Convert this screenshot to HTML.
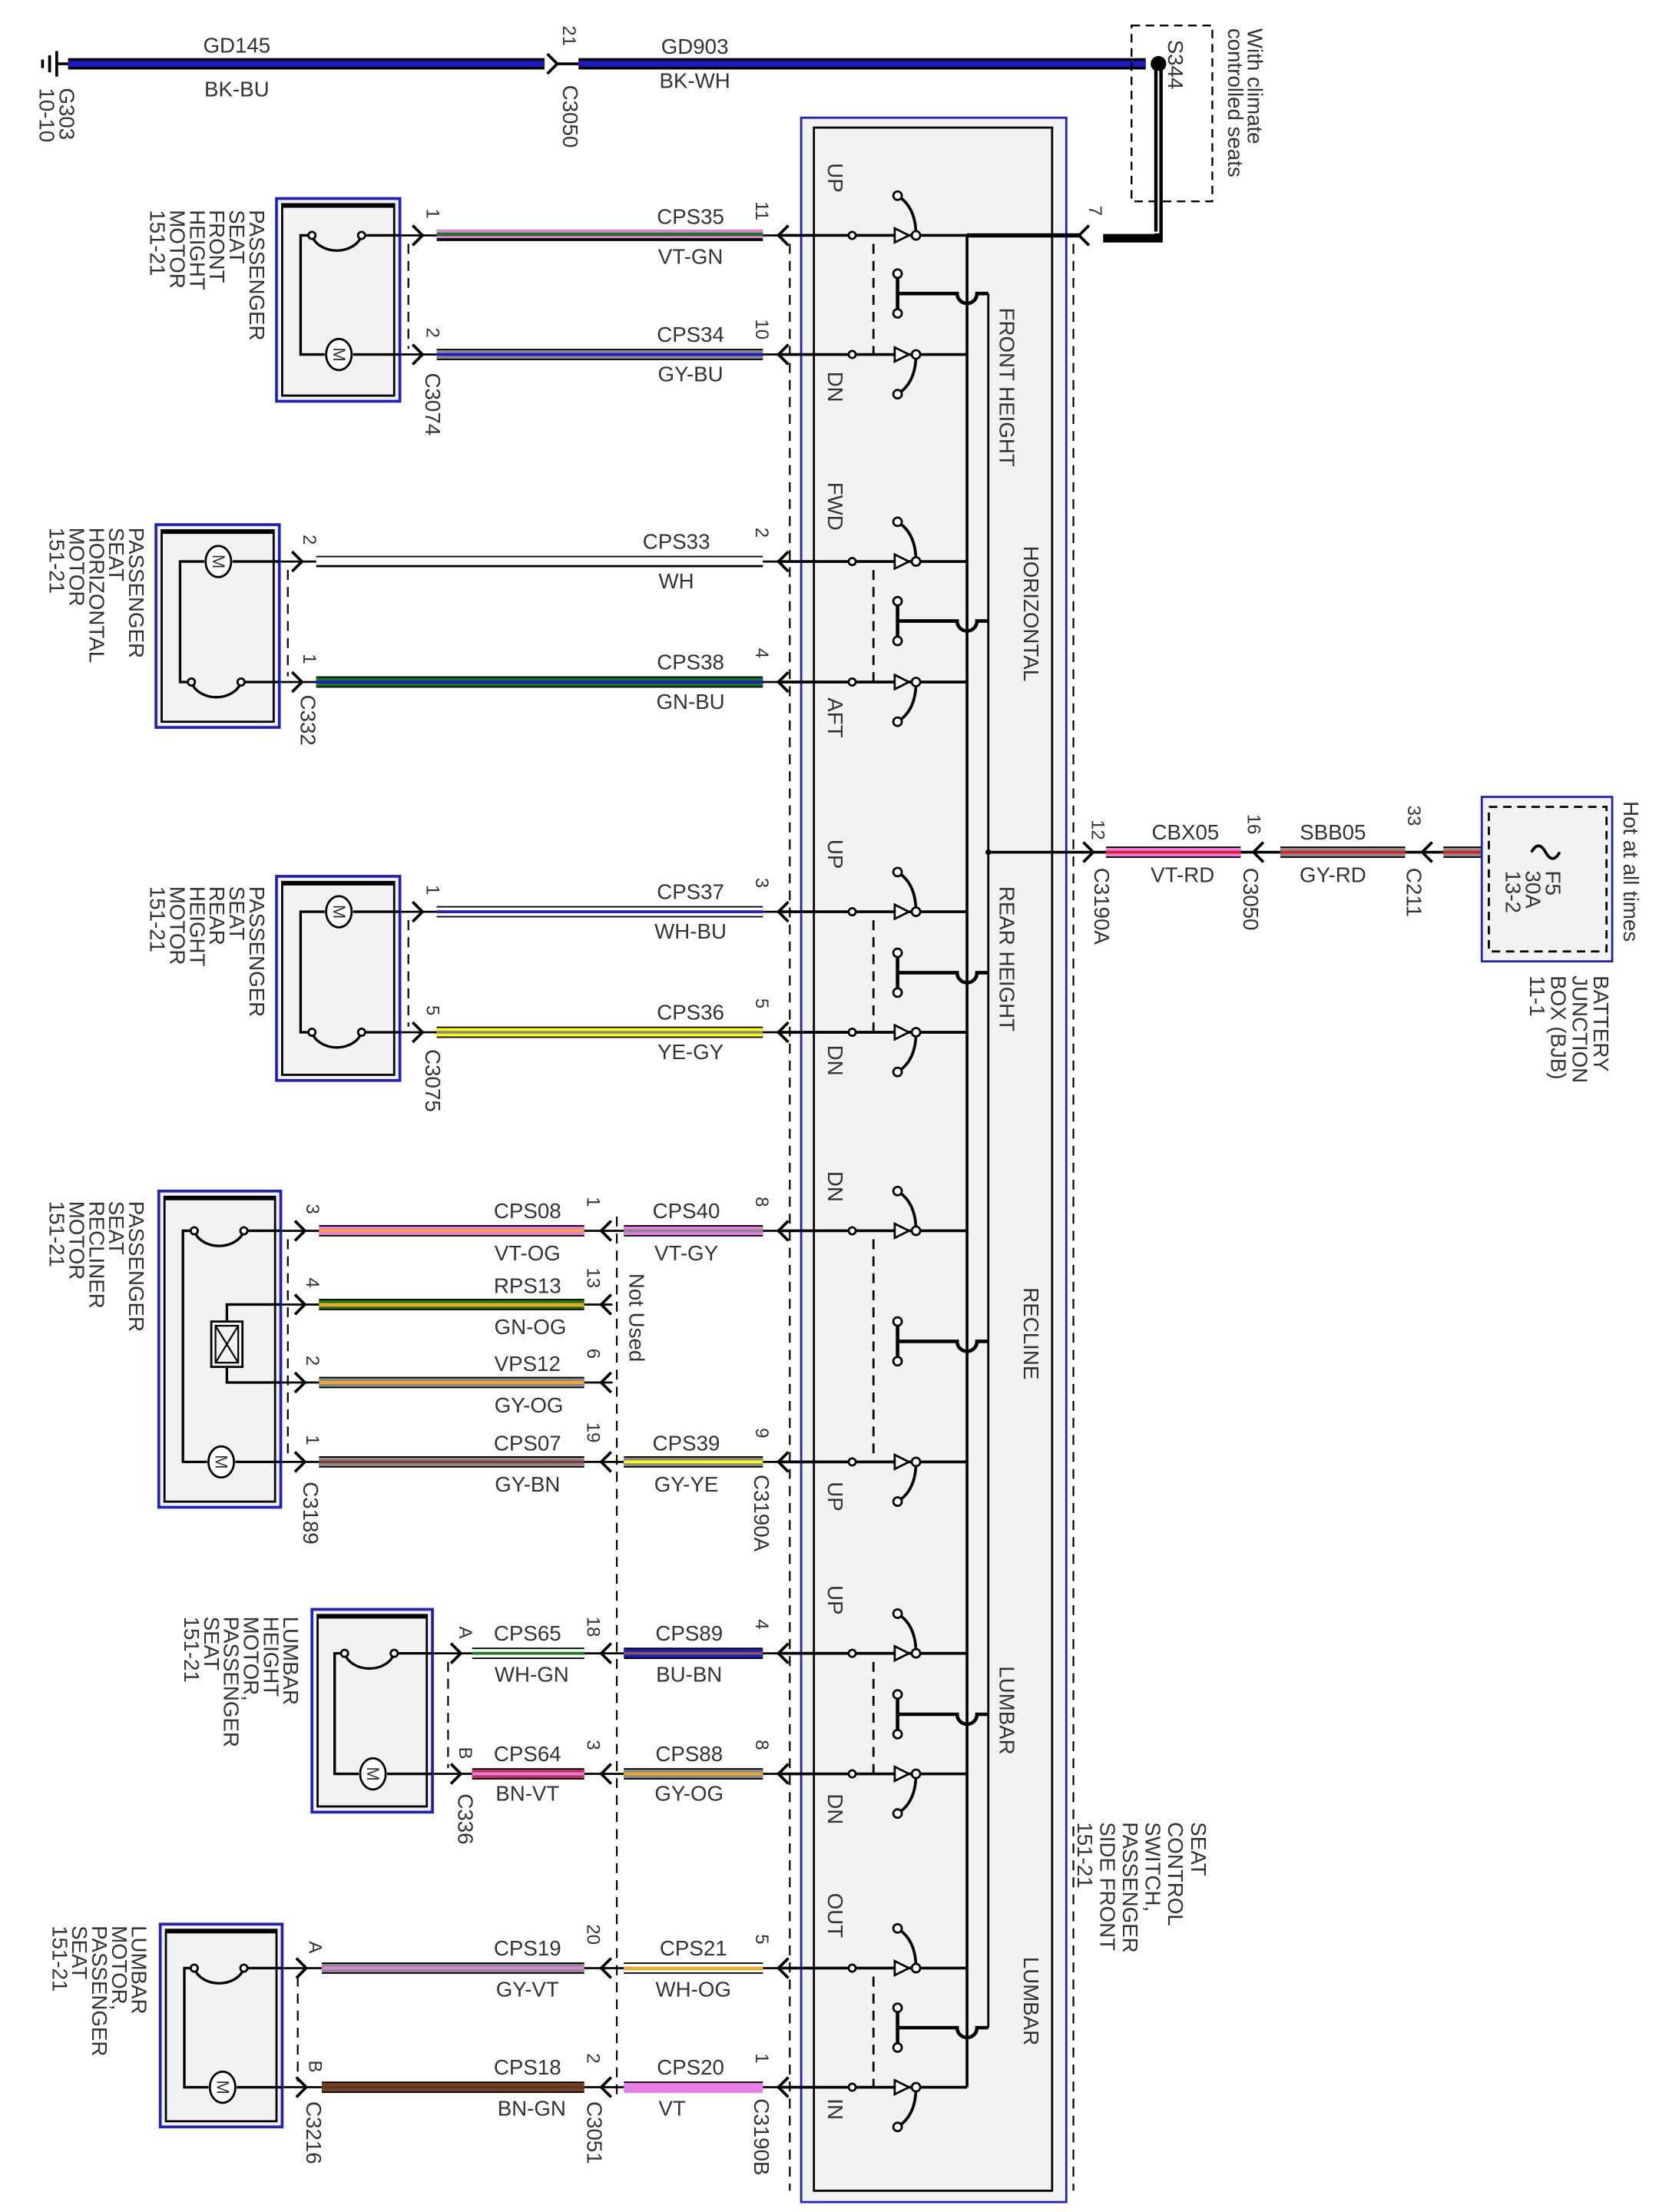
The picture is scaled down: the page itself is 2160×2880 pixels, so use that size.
<!DOCTYPE html>
<html><head><meta charset="utf-8"><style>
html,body{margin:0;padding:0;background:#fff}
svg{display:block}
text{font-family:"Liberation Sans",sans-serif;fill:#333;font-size:15px}
.m{text-anchor:middle}
.p{font-size:13px}
</style></head><body>
<svg width="2160" height="2880" viewBox="0 0 1170 1560" xmlns="http://www.w3.org/2000/svg">
<rect width="1170" height="1560" fill="#fff"/>

<!-- ground -->
<g stroke="#000" stroke-width="2">
<line x1="40" y1="45" x2="50" y2="45"/>
<line x1="40" y1="36" x2="40" y2="54"/><line x1="35" y1="39" x2="35" y2="51"/><line x1="30" y1="42" x2="30" y2="48"/>
</g>
<text transform="translate(42,62) rotate(90)">G303</text>
<text transform="translate(28,62) rotate(90)">10-10</text>
<rect x="48" y="41" width="336" height="8" fill="#000"/><rect x="48" y="43" width="336" height="4" fill="#1a1acc"/>
<path d="M386,38 L393,45 L386,52" stroke="#000" stroke-width="2" fill="none"/>
<line x1="393" y1="45" x2="408" y2="45" stroke="#000" stroke-width="2"/>
<rect x="408" y="41" width="400" height="8" fill="#000"/><rect x="408" y="43" width="400" height="4" fill="#1a1acc"/>
<text class="m" x="167" y="37">GD145</text><text class="m" x="167" y="68">BK-BU</text>
<text class="m" x="490" y="38">GD903</text><text class="m" x="490" y="62">BK-WH</text>
<text class="p" transform="translate(397,18) rotate(90)">21</text>
<text transform="translate(397,60) rotate(90)">C3050</text>
<rect x="798" y="18" width="57" height="124" fill="none" stroke="#000" stroke-width="1.3" stroke-dasharray="6,4"/>
<circle cx="817" cy="45" r="5.5" fill="#000"/>
<text transform="translate(824,28) rotate(90)">S344</text>
<text transform="translate(880,20) rotate(90)">With climate</text>
<text transform="translate(866,20) rotate(90)">controlled seats</text>
<path d="M817,45 V168 H778" stroke="#000" stroke-width="6" fill="none"/>
<path d="M817,50 V164 H778" stroke="#fff" stroke-width="1.2" fill="none"/>
<path d="M768,159 L761,166 L768,173" stroke="#000" stroke-width="2" fill="none"/>
<text class="p" transform="translate(768,145) rotate(90)">7</text>

<!-- switch box -->
<rect x="565" y="83" width="187" height="1470" fill="#f2f2f2" stroke="#2020c0" stroke-width="1.5"/>
<rect x="574" y="90" width="168" height="1455" fill="#f2f2f2" stroke="#000" stroke-width="1.5"/>
<g stroke="#000" stroke-width="1.2" stroke-dasharray="7,5" fill="none">
<line x1="557" y1="172" x2="557" y2="1545"/>
<line x1="757" y1="172" x2="757" y2="1545"/>
</g>
<!-- buses -->
<line x1="682" y1="166" x2="682" y2="1472" stroke="#000" stroke-width="2"/>
<line x1="697" y1="207" x2="697" y2="1430" stroke="#000" stroke-width="1.5"/>
<line x1="682" y1="166" x2="761" y2="166" stroke="#000" stroke-width="3"/>

<!-- switch rows -->
<g stroke="#000" stroke-width="2" fill="none">
<!-- row lines -->
<path d="M548,166H682 M548,250H682 M548,396H682 M548,481H682 M548,643H682 M548,728H682 M548,868H682 M548,1031H682 M548,1166H682 M548,1251H682 M548,1388H682 M548,1472H682"/>
<!-- dashed -->
<g stroke-dasharray="7,5" stroke-width="1.5">
<path d="M616,172V250 M616,402V481 M616,649V728 M616,874V1031 M616,1172V1251 M616,1394V1472"/>
</g>
<!-- arms -->
<path d="M646,166 Q646,146 633,138 M646,250 Q646,270 633,278
M646,396 Q646,376 633,368 M646,481 Q646,501 633,509
M646,643 Q646,623 633,615 M646,728 Q646,748 633,756
M646,868 Q646,848 633,840 M646,1031 Q646,1051 633,1059
M646,1166 Q646,1146 633,1138 M646,1251 Q646,1271 633,1279
M646,1388 Q646,1368 633,1360 M646,1472 Q646,1492 633,1500"/>
<!-- stubs -->
<path d="M633,193V221 M633,207H675 A7,7 0 0 0 689,207 H697
M633,424V452 M633,438H675 A7,7 0 0 0 689,438 H697
M633,672V700 M633,686H675 A7,7 0 0 0 689,686 H697
M633,932V960 M633,946H675 A7,7 0 0 0 689,946 H697
M633,1195V1223 M633,1209H675 A7,7 0 0 0 689,1209 H697
M633,1416V1444 M633,1430H675 A7,7 0 0 0 689,1430 H697" stroke-width="2.5"/>
</g>
<g fill="#fff" stroke="#000" stroke-width="1.5">
<!-- triangles and contacts -->
<path d="M631,161L641,166L631,171Z M631,245L641,250L631,255Z M631,391L641,396L631,401Z M631,476L641,481L631,486Z M631,638L641,643L631,648Z M631,723L641,728L631,733Z M631,863L641,868L631,873Z M631,1026L641,1031L631,1036Z M631,1161L641,1166L631,1171Z M631,1246L641,1251L631,1256Z M631,1383L641,1388L631,1393Z M631,1467L641,1472L631,1477Z"/>
<circle cx="646" cy="166" r="3"/><circle cx="646" cy="250" r="3"/><circle cx="646" cy="396" r="3"/><circle cx="646" cy="481" r="3"/><circle cx="646" cy="643" r="3"/><circle cx="646" cy="728" r="3"/><circle cx="646" cy="868" r="3"/><circle cx="646" cy="1031" r="3"/><circle cx="646" cy="1166" r="3"/><circle cx="646" cy="1251" r="3"/><circle cx="646" cy="1388" r="3"/><circle cx="646" cy="1472" r="3"/>
<circle cx="633" cy="138" r="3"/><circle cx="633" cy="278" r="3"/><circle cx="633" cy="368" r="3"/><circle cx="633" cy="509" r="3"/><circle cx="633" cy="615" r="3"/><circle cx="633" cy="756" r="3"/><circle cx="633" cy="840" r="3"/><circle cx="633" cy="1059" r="3"/><circle cx="633" cy="1138" r="3"/><circle cx="633" cy="1279" r="3"/><circle cx="633" cy="1360" r="3"/><circle cx="633" cy="1500" r="3"/>
<circle cx="633" cy="193" r="3"/><circle cx="633" cy="221" r="3"/><circle cx="633" cy="424" r="3"/><circle cx="633" cy="452" r="3"/><circle cx="633" cy="672" r="3"/><circle cx="633" cy="700" r="3"/><circle cx="633" cy="932" r="3"/><circle cx="633" cy="960" r="3"/><circle cx="633" cy="1195" r="3"/><circle cx="633" cy="1223" r="3"/><circle cx="633" cy="1416" r="3"/><circle cx="633" cy="1444" r="3"/>
<circle cx="601" cy="166" r="2.5"/><circle cx="601" cy="250" r="2.5"/><circle cx="601" cy="396" r="2.5"/><circle cx="601" cy="481" r="2.5"/><circle cx="601" cy="643" r="2.5"/><circle cx="601" cy="728" r="2.5"/><circle cx="601" cy="868" r="2.5"/><circle cx="601" cy="1031" r="2.5"/><circle cx="601" cy="1166" r="2.5"/><circle cx="601" cy="1251" r="2.5"/><circle cx="601" cy="1388" r="2.5"/><circle cx="601" cy="1472" r="2.5"/>
</g>
<!-- switch side arrows -->
<path d="M556,159L549,166L556,173 M556,243L549,250L556,257 M556,389L549,396L556,403 M556,474L549,481L556,488 M556,636L549,643L556,650 M556,721L549,728L556,735 M556,861L549,868L556,875 M556,1024L549,1031L556,1038 M556,1159L549,1166L556,1173 M556,1244L549,1251L556,1258 M556,1381L549,1388L556,1395 M556,1465L549,1472L556,1479" stroke="#000" stroke-width="2" fill="none"/>

<!-- switch labels -->
<text transform="translate(584,115) rotate(90)">UP</text>
<text transform="translate(584,262) rotate(90)">DN</text>
<text transform="translate(584,340) rotate(90)">FWD</text>
<text transform="translate(584,492) rotate(90)">AFT</text>
<text transform="translate(584,592) rotate(90)">UP</text>
<text transform="translate(584,737) rotate(90)">DN</text>
<text transform="translate(584,826) rotate(90)">DN</text>
<text transform="translate(584,1045) rotate(90)">UP</text>
<text transform="translate(584,1118) rotate(90)">UP</text>
<text transform="translate(584,1265) rotate(90)">DN</text>
<text transform="translate(584,1335) rotate(90)">OUT</text>
<text transform="translate(584,1480) rotate(90)">IN</text>
<text transform="translate(705,217) rotate(90)">FRONT HEIGHT</text>
<text transform="translate(722,385) rotate(90)">HORIZONTAL</text>
<text transform="translate(705,625) rotate(90)">REAR HEIGHT</text>
<text transform="translate(722,908) rotate(90)">RECLINE</text>
<text transform="translate(705,1175) rotate(90)">LUMBAR</text>
<text transform="translate(722,1380) rotate(90)">LUMBAR</text>
<text transform="translate(840,1285) rotate(90)">SEAT<tspan x="0" dy="16">CONTROL</tspan><tspan x="0" dy="16">SWITCH,</tspan><tspan x="0" dy="16">PASSENGER</tspan><tspan x="0" dy="16">SIDE FRONT</tspan><tspan x="0" dy="16">151-21</tspan></text>

<!-- battery feed -->
<line x1="697" y1="601" x2="1050" y2="601" stroke="#000" stroke-width="2"/>
<circle cx="697" cy="601" r="2" fill="#000"/>
<rect x="780" y="597" width="95" height="8" fill="#000"/><rect x="780" y="598" width="95" height="6" fill="#e87de8"/><rect x="780" y="600" width="95" height="2" fill="#e02020"/>
<rect x="903" y="597" width="88" height="8" fill="#000"/><rect x="903" y="598" width="88" height="6" fill="#8c8c8c"/><rect x="903" y="600" width="88" height="2" fill="#e02020"/>
<rect x="1018" y="597" width="27" height="8" fill="#000"/><rect x="1018" y="598" width="27" height="6" fill="#8c8c8c"/><rect x="1018" y="600" width="27" height="2" fill="#e02020"/>
<path d="M764,594L771,601L764,608 M891,594L884,601L891,608 M1010,594L1003,601L1010,608" stroke="#000" stroke-width="2" fill="none"/>
<text class="m" x="836" y="592">CBX05</text><text class="m" x="834" y="622">VT-RD</text>
<text class="m" x="940" y="592">SBB05</text><text class="m" x="940" y="622">GY-RD</text>
<text class="p" transform="translate(770,578) rotate(90)">12</text>
<text class="p" transform="translate(880,574) rotate(90)">16</text>
<text class="p" transform="translate(993,568) rotate(90)">33</text>
<text transform="translate(772,612) rotate(90)">C3190A</text>
<text transform="translate(877,612) rotate(90)">C3050</text>
<text transform="translate(992,612) rotate(90)">C211</text>
<rect x="1045" y="562" width="92" height="116" fill="#f2f2f2" stroke="#2020c0" stroke-width="1.5"/>
<rect x="1050" y="569" width="83" height="102" fill="none" stroke="#000" stroke-width="1.5" stroke-dasharray="6,4"/>
<path d="M1080,601 Q1085,592 1090,601 Q1095,610 1100,601" stroke="#000" stroke-width="2" fill="none"/>
<text transform="translate(1090,614) rotate(90)">F5<tspan x="0" dy="14">30A</tspan><tspan x="0" dy="14">13-2</tspan></text>
<text transform="translate(1145,565) rotate(90)">Hot at all times</text>
<text transform="translate(1124,688) rotate(90)">BATTERY<tspan x="0" dy="15">JUNCTION</tspan><tspan x="0" dy="15">BOX (BJB)</tspan><tspan x="0" dy="15">11-1</tspan></text>

<!-- thin lines from motor boxes to switch -->
<g stroke="#000" stroke-width="1.5">
<path d="M282,166H548 M282,250H548 M197,396H548 M197,481H548 M282,643H548 M282,728H548 M198,868H548 M198,920H432 M198,975H432 M198,1031H548 M305,1166H548 M305,1251H548 M199,1388H548 M199,1472H548"/>
</g>

<!-- wires -->
<g>
<!-- helper pattern: black, base, stripe -->
<rect x="308" y="162" width="230" height="8" fill="#000"/><rect x="308" y="162" width="230" height="6" fill="#e87de8"/><rect x="308" y="164" width="230" height="2.5" fill="#1a7a1a"/>
<rect x="308" y="246" width="230" height="8" fill="#000"/><rect x="308" y="247" width="230" height="6" fill="#8c8c8c"/><rect x="308" y="249" width="230" height="2" fill="#1a1acc"/>
<rect x="223" y="392" width="315" height="8" fill="#000"/><rect x="223" y="393" width="315" height="5.5" fill="#fff"/>
<rect x="223" y="477" width="315" height="8" fill="#000"/><rect x="223" y="478" width="315" height="6" fill="#1a7a1a"/><rect x="223" y="480" width="315" height="2" fill="#1a1acc"/>
<rect x="308" y="639" width="230" height="8" fill="#000"/><rect x="308" y="640" width="230" height="6" fill="#fff"/><rect x="308" y="642" width="230" height="2" fill="#1a1acc"/>
<rect x="308" y="724" width="230" height="8" fill="#000"/><rect x="308" y="725" width="230" height="6" fill="#ffff00"/><rect x="308" y="727" width="230" height="2" fill="#8c8c8c"/>
<!-- recline -->
<rect x="225" y="864" width="187" height="8" fill="#000"/><rect x="225" y="865" width="187" height="6" fill="#e87de8"/><rect x="225" y="867" width="187" height="2" fill="#f5a623"/>
<rect x="440" y="864" width="98" height="8" fill="#000"/><rect x="440" y="865" width="98" height="6" fill="#e87de8"/><rect x="440" y="867" width="98" height="2" fill="#8c8c8c"/>
<rect x="225" y="916" width="187" height="8" fill="#000"/><rect x="225" y="917" width="187" height="6" fill="#1a7a1a"/><rect x="225" y="919" width="187" height="2.5" fill="#f5a623"/>
<rect x="225" y="971" width="187" height="8" fill="#000"/><rect x="225" y="972" width="187" height="6" fill="#8c8c8c"/><rect x="225" y="974" width="187" height="2" fill="#f5a623"/>
<rect x="225" y="1027" width="187" height="8" fill="#000"/><rect x="225" y="1028" width="187" height="6" fill="#8c8c8c"/><rect x="225" y="1030" width="187" height="2" fill="#8b3a3a"/>
<rect x="440" y="1027" width="98" height="8" fill="#000"/><rect x="440" y="1028" width="98" height="6" fill="#8c8c8c"/><rect x="440" y="1030" width="98" height="2" fill="#ffff00"/>
<!-- lumbar height -->
<rect x="333" y="1162" width="79" height="8" fill="#000"/><rect x="333" y="1163" width="79" height="6" fill="#fff"/><rect x="333" y="1165" width="79" height="2" fill="#1a7a1a"/>
<rect x="440" y="1162" width="98" height="8" fill="#000"/><rect x="440" y="1163" width="98" height="6" fill="#1a1acc"/><rect x="440" y="1165" width="98" height="2" fill="#8b5a3c"/>
<rect x="333" y="1247" width="79" height="8" fill="#000"/><rect x="333" y="1248" width="79" height="6" fill="#c0305a"/><rect x="333" y="1250" width="79" height="2" fill="#e87de8"/>
<rect x="440" y="1247" width="98" height="8" fill="#000"/><rect x="440" y="1248" width="98" height="6" fill="#8c8c8c"/><rect x="440" y="1250" width="98" height="2" fill="#f5a623"/>
<!-- lumbar -->
<rect x="227" y="1384" width="185" height="8" fill="#000"/><rect x="227" y="1385" width="185" height="6" fill="#8c8c8c"/><rect x="227" y="1387" width="185" height="2" fill="#e87de8"/>
<rect x="440" y="1384" width="98" height="8" fill="#000"/><rect x="440" y="1385" width="98" height="6" fill="#fff"/><rect x="440" y="1387" width="98" height="2.5" fill="#f5a623"/>
<rect x="227" y="1468" width="185" height="8" fill="#000"/><rect x="227" y="1469" width="185" height="6" fill="#7a3f20"/><rect x="227" y="1471" width="185" height="2" fill="#5a3a20"/>
<rect x="440" y="1468" width="98" height="8" fill="#e87de8"/><rect x="440" y="1468" width="98" height="1" fill="#000"/>
</g>

<!-- wire labels -->
<g>
<text class="m" x="487" y="158">CPS35</text><text class="m" x="487" y="186">VT-GN</text>
<text class="m" x="487" y="241">CPS34</text><text class="m" x="487" y="269">GY-BU</text>
<text class="m" x="477" y="387">CPS33</text><text class="m" x="477" y="415">WH</text>
<text class="m" x="487" y="472">CPS38</text><text class="m" x="487" y="500">GN-BU</text>
<text class="m" x="487" y="634">CPS37</text><text class="m" x="487" y="662">WH-BU</text>
<text class="m" x="487" y="719">CPS36</text><text class="m" x="487" y="747">YE-GY</text>
<text class="m" x="372" y="859">CPS08</text><text class="m" x="372" y="889">VT-OG</text>
<text class="m" x="484" y="859">CPS40</text><text class="m" x="484" y="889">VT-GY</text>
<text class="m" x="372" y="912">RPS13</text><text class="m" x="374" y="941">GN-OG</text>
<text class="m" x="372" y="967">VPS12</text><text class="m" x="373" y="996">GY-OG</text>
<text class="m" x="372" y="1023">CPS07</text><text class="m" x="372" y="1052">GY-BN</text>
<text class="m" x="484" y="1023">CPS39</text><text class="m" x="484" y="1052">GY-YE</text>
<text class="m" x="372" y="1157">CPS65</text><text class="m" x="375" y="1186">WH-GN</text>
<text class="m" x="486" y="1157">CPS89</text><text class="m" x="486" y="1186">BU-BN</text>
<text class="m" x="372" y="1242">CPS64</text><text class="m" x="372" y="1270">BN-VT</text>
<text class="m" x="486" y="1242">CPS88</text><text class="m" x="486" y="1270">GY-OG</text>
<text class="m" x="372" y="1379">CPS19</text><text class="m" x="372" y="1408">GY-VT</text>
<text class="m" x="489" y="1379">CPS21</text><text class="m" x="489" y="1408">WH-OG</text>
<text class="m" x="372" y="1463">CPS18</text><text class="m" x="375" y="1492">BN-GN</text>
<text class="m" x="487" y="1463">CPS20</text><text class="m" x="474" y="1492">VT</text>
</g>

<!-- pin numbers -->
<g class="p">
<text class="p" transform="translate(301,147) rotate(90)">1</text>
<text class="p" transform="translate(301,231) rotate(90)">2</text>
<text class="p" transform="translate(533,142) rotate(90)">11</text>
<text class="p" transform="translate(533,225) rotate(90)">10</text>
<text class="p" transform="translate(214,377) rotate(90)">2</text>
<text class="p" transform="translate(214,461) rotate(90)">1</text>
<text class="p" transform="translate(533,372) rotate(90)">2</text>
<text class="p" transform="translate(533,457) rotate(90)">4</text>
<text class="p" transform="translate(301,624) rotate(90)">1</text>
<text class="p" transform="translate(301,709) rotate(90)">5</text>
<text class="p" transform="translate(533,619) rotate(90)">3</text>
<text class="p" transform="translate(533,704) rotate(90)">5</text>
<text class="p" transform="translate(216,849) rotate(90)">3</text>
<text class="p" transform="translate(216,901) rotate(90)">4</text>
<text class="p" transform="translate(216,956) rotate(90)">2</text>
<text class="p" transform="translate(216,1012) rotate(90)">1</text>
<text class="p" transform="translate(414,844) rotate(90)">1</text>
<text class="p" transform="translate(414,894) rotate(90)">13</text>
<text class="p" transform="translate(414,951) rotate(90)">6</text>
<text class="p" transform="translate(414,1003) rotate(90)">19</text>
<text class="p" transform="translate(533,844) rotate(90)">8</text>
<text class="p" transform="translate(533,1007) rotate(90)">9</text>
<text class="p" transform="translate(324,1147) rotate(90)">A</text>
<text class="p" transform="translate(324,1232) rotate(90)">B</text>
<text class="p" transform="translate(414,1140) rotate(90)">18</text>
<text class="p" transform="translate(414,1227) rotate(90)">3</text>
<text class="p" transform="translate(533,1142) rotate(90)">4</text>
<text class="p" transform="translate(533,1227) rotate(90)">8</text>
<text class="p" transform="translate(218,1369) rotate(90)">A</text>
<text class="p" transform="translate(218,1453) rotate(90)">B</text>
<text class="p" transform="translate(414,1357) rotate(90)">20</text>
<text class="p" transform="translate(414,1448) rotate(90)">2</text>
<text class="p" transform="translate(533,1364) rotate(90)">5</text>
<text class="p" transform="translate(533,1448) rotate(90)">1</text>
</g>

<!-- connector names -->
<text transform="translate(300,263) rotate(90)">C3074</text>
<text transform="translate(212,490) rotate(90)">C332</text>
<text transform="translate(300,740) rotate(90)">C3075</text>
<text transform="translate(214,1045) rotate(90)">C3189</text>
<text transform="translate(532,1040) rotate(90)">C3190A</text>
<text transform="translate(323,1265) rotate(90)">C336</text>
<text transform="translate(216,1482) rotate(90)">C3216</text>
<text transform="translate(414,1482) rotate(90)">C3051</text>
<text transform="translate(532,1480) rotate(90)">C3190B</text>
<text transform="translate(444,898) rotate(90)">Not Used</text>

<!-- connector dashed lines -->
<g stroke="#000" stroke-width="1.2" stroke-dasharray="7,5" fill="none">
<path d="M288,172V246 M203,402V477 M288,649V724 M203,874V1027 M316,1172V1247 M210,1394V1468 M435,858V1482"/>
</g>
<!-- motor-side arrows and inline arrows -->
<path d="M291,159L298,166L291,173 M291,243L298,250L291,257 M206,389L213,396L206,403 M206,474L213,481L206,488 M291,636L298,643L291,650 M291,721L298,728L291,735 M208,861L215,868L208,875 M208,913L215,920L208,927 M208,968L215,975L208,982 M208,1024L215,1031L208,1038 M318,1159L325,1166L318,1173 M318,1244L325,1251L318,1258 M209,1381L216,1388L209,1395 M209,1465L216,1472L209,1479
M431,861L424,868L431,875 M431,913L424,920L431,927 M431,968L424,975L431,982 M431,1024L424,1031L431,1038 M431,1159L424,1166L431,1173 M431,1244L424,1251L431,1258 M431,1381L424,1388L431,1395 M431,1465L424,1472L431,1479" stroke="#000" stroke-width="2" fill="none"/>

<!-- motor boxes -->
<g fill="#f2f2f2" stroke-width="1.5">
<rect x="195" y="140" width="87" height="143" stroke="#2020c0" stroke-width="2"/>
<rect x="199" y="144" width="79" height="135" stroke="#000"/>
<rect x="110" y="370" width="87" height="143" stroke="#2020c0" stroke-width="2"/>
<rect x="114" y="374" width="79" height="135" stroke="#000"/>
<rect x="195" y="618" width="87" height="144" stroke="#2020c0" stroke-width="2"/>
<rect x="199" y="622" width="79" height="136" stroke="#000"/>
<rect x="112" y="840" width="86" height="223" stroke="#2020c0" stroke-width="2"/>
<rect x="116" y="844" width="78" height="215" stroke="#000"/>
<rect x="220" y="1135" width="85" height="143" stroke="#2020c0" stroke-width="2"/>
<rect x="224" y="1139" width="77" height="135" stroke="#000"/>
<rect x="113" y="1357" width="86" height="143" stroke="#2020c0" stroke-width="2"/>
<rect x="117" y="1361" width="78" height="135" stroke="#000"/>
</g>
<g stroke="#000" stroke-width="3">
<path d="M199,145H278 M114,375H193 M199,623H278 M116,845H194 M224,1140H301 M117,1362H195"/>
</g>

<!-- internals -->
<g stroke="#000" stroke-width="1.8" fill="none">
<!-- front: breaker 166, motor 250 -->
<path d="M282,166H255 M255,166 A18,14 0 0 1 220,166 H212 V250 H229 M249,250H282"/>
<!-- horizontal: motor 396, breaker 481 -->
<path d="M197,396H164 M144,396H127 V481 H135 A18,14 0 0 0 170,481 H197"/>
<!-- rear: motor 643, breaker 728 -->
<path d="M282,643H249 M229,643H212 V728 H220 A18,14 0 0 0 255,728 H282"/>
<!-- recline -->
<path d="M198,868H172 A18,14 0 0 1 137,868 H129 V1031 H146 M166,1031H198 M198,920H160V932 M198,975H160V964"/>
<!-- lumbar height -->
<path d="M305,1166H278 A18,14 0 0 1 243,1166 H236 V1251 H253 M273,1251H305"/>
<!-- lumbar -->
<path d="M199,1388H172 A18,14 0 0 1 137,1388 H130 V1472 H147 M167,1472H199"/>
</g>
<rect x="149" y="932" width="22" height="32" fill="#f2f2f2" stroke="#000" stroke-width="1.5"/>
<rect x="152" y="935" width="16" height="26" fill="none" stroke="#000" stroke-width="1.2"/>
<path d="M152,935L168,961 M168,935L152,961" stroke="#000" stroke-width="1.2"/>
<g fill="#fff" stroke="#000" stroke-width="1.5">
<circle cx="255" cy="166" r="2.5"/><circle cx="220" cy="166" r="2.5"/>
<circle cx="135" cy="481" r="2.5"/><circle cx="170" cy="481" r="2.5"/>
<circle cx="220" cy="728" r="2.5"/><circle cx="255" cy="728" r="2.5"/>
<circle cx="172" cy="868" r="2.5"/><circle cx="137" cy="868" r="2.5"/>
<circle cx="278" cy="1166" r="2.5"/><circle cx="243" cy="1166" r="2.5"/>
<circle cx="172" cy="1388" r="2.5"/><circle cx="137" cy="1388" r="2.5"/>
<!-- motors -->
<ellipse cx="239" cy="250" rx="9" ry="11"/><ellipse cx="154" cy="396" rx="9" ry="11"/><ellipse cx="239" cy="643" rx="9" ry="11"/>
<ellipse cx="156" cy="1031" rx="9" ry="11"/><ellipse cx="263" cy="1251" rx="9" ry="11"/><ellipse cx="157" cy="1472" rx="9" ry="11"/>
</g>
<g font-size="12" class="m">
<text class="m" transform="translate(235,250) rotate(90)" style="font-size:12px">M</text>
<text class="m" transform="translate(150,396) rotate(90)" style="font-size:12px">M</text>
<text class="m" transform="translate(235,643) rotate(90)" style="font-size:12px">M</text>
<text class="m" transform="translate(152,1031) rotate(90)" style="font-size:12px">M</text>
<text class="m" transform="translate(259,1251) rotate(90)" style="font-size:12px">M</text>
<text class="m" transform="translate(153,1472) rotate(90)" style="font-size:12px">M</text>
</g>

<!-- motor labels -->
<text transform="translate(176,148) rotate(90)">PASSENGER<tspan x="0" dy="14">SEAT</tspan><tspan x="0" dy="14">FRONT</tspan><tspan x="0" dy="14">HEIGHT</tspan><tspan x="0" dy="14">MOTOR</tspan><tspan x="0" dy="14">151-21</tspan></text>
<text transform="translate(91,372) rotate(90)">PASSENGER<tspan x="0" dy="14">SEAT</tspan><tspan x="0" dy="14">HORIZONTAL</tspan><tspan x="0" dy="14">MOTOR</tspan><tspan x="0" dy="14">151-21</tspan></text>
<text transform="translate(176,625) rotate(90)">PASSENGER<tspan x="0" dy="14">SEAT</tspan><tspan x="0" dy="14">REAR</tspan><tspan x="0" dy="14">HEIGHT</tspan><tspan x="0" dy="14">MOTOR</tspan><tspan x="0" dy="14">151-21</tspan></text>
<text transform="translate(91,847) rotate(90)">PASSENGER<tspan x="0" dy="14">SEAT</tspan><tspan x="0" dy="14">RECLINER</tspan><tspan x="0" dy="14">MOTOR</tspan><tspan x="0" dy="14">151-21</tspan></text>
<text transform="translate(200,1140) rotate(90)">LUMBAR<tspan x="0" dy="14">HEIGHT</tspan><tspan x="0" dy="14">MOTOR,</tspan><tspan x="0" dy="14">PASSENGER</tspan><tspan x="0" dy="14">SEAT</tspan><tspan x="0" dy="14">151-21</tspan></text>
<text transform="translate(93,1358) rotate(90)">LUMBAR<tspan x="0" dy="14">MOTOR,</tspan><tspan x="0" dy="14">PASSENGER</tspan><tspan x="0" dy="14">SEAT</tspan><tspan x="0" dy="14">151-21</tspan></text>
</svg>
</body></html>
